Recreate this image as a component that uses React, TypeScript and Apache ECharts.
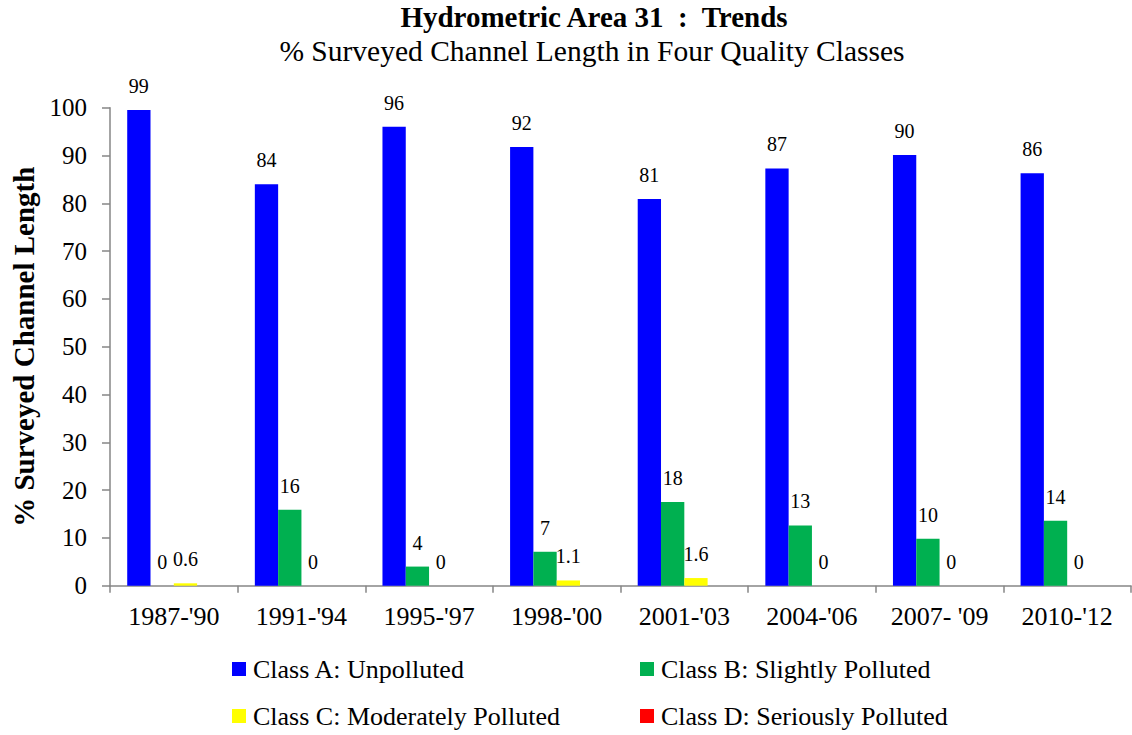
import React, { useEffect, useRef } from "react";
import * as echarts from "echarts";

const categories = ["1987-'90", "1991-'94", "1995-'97", "1998-'00", "2001-'03", "2004-'06", "2007- '09", "2010-'12"];
const classA = [99.5, 84.0, 96.0, 91.8, 80.9, 87.3, 90.1, 86.3];
const classB = [0, 15.9, 4.0, 7.1, 17.5, 12.6, 9.8, 13.6];
const classC = [0.5, 0, 0, 1.1, 1.6, 0, 0, 0];
const classD = [0, 0, 0, 0, 0, 0, 0, 0];
const labelsA = ["99", "84", "96", "92", "81", "87", "90", "86"];
const labelsB = ["0", "16", "4", "7", "18", "13", "10", "14"];
const labelsC = ["0.6", "0", "0", "1.1", "1.6", "0", "0", "0"];
const seriesNames = [
  "Class A: Unpolluted",
  "Class B: Slightly Polluted",
  "Class C: Moderately Polluted",
  "Class D: Seriously Polluted",
];
const colors = ["#0000FF", "#00B050", "#FFFF00", "#FF0000"];

const FONT = "'Liberation Serif', 'Times New Roman', serif";

export default function App() {
  const ref = useRef<HTMLDivElement>(null);
  useEffect(() => {
    if (!ref.current) return;
    const chart = echarts.init(ref.current, null, { renderer: "svg" });
    const labelOpt = (labels: string[] | null) =>
      labels
        ? {
            show: true,
            position: "top",
            distance: 14,
            color: "#000",
            fontFamily: FONT,
            fontSize: 20,
            formatter: (p: any) => labels[p.dataIndex],
          }
        : { show: false };
    const datasets = [classA, classB, classC, classD];
    const labelSets = [labelsA, labelsB, labelsC, null];
    const legendPos = [
      { left: 232, top: 656 },
      { left: 640, top: 656 },
      { left: 232, top: 703 },
      { left: 640, top: 703 },
    ];
    chart.setOption({
      animation: false,
      backgroundColor: "#fff",
      title: [
        {
          text: "Hydrometric Area 31  :  Trends",
          left: 594,
          top: 2,
          padding: 0,
          textAlign: "center",
          textStyle: { fontFamily: FONT, fontSize: 29, fontWeight: "bold", color: "#000" },
        },
        {
          text: "% Surveyed Channel Length in Four Quality Classes",
          left: 592,
          top: 36,
          padding: 0,
          textAlign: "center",
          textStyle: { fontFamily: FONT, fontSize: 29.5, fontWeight: "normal", color: "#000" },
        },
      ],
      legend: seriesNames.map((n, i) => ({
        data: [n],
        left: legendPos[i].left,
        top: legendPos[i].top,
        padding: 0,
        icon: "rect",
        itemWidth: 14,
        itemHeight: 14,
        selectedMode: false,
        textStyle: { fontFamily: FONT, fontSize: 26, color: "#000", padding: [0, 0, 0, 2] },
      })),
      grid: { left: 110, right: 1, top: 107.7, bottom: 149.3, containLabel: false },
      xAxis: {
        type: "category",
        data: categories,
        axisLine: { show: true, lineStyle: { color: "#868686", width: 1.5 } },
        axisTick: { show: true, length: 7, lineStyle: { color: "#868686", width: 1.5 } },
        axisLabel: { fontFamily: FONT, fontSize: 26, color: "#000", margin: 18, interval: 0 },
      },
      yAxis: {
        type: "value",
        min: 0,
        max: 100,
        interval: 10,
        name: "% Surveyed Channel Length",
        nameLocation: "middle",
        nameGap: 72,
        nameTextStyle: { fontFamily: FONT, fontSize: 29, fontWeight: "bold", color: "#000" },
        axisLine: { show: true, lineStyle: { color: "#868686", width: 1.5 } },
        axisTick: { show: true, length: 8, lineStyle: { color: "#868686", width: 1.5 } },
        splitLine: { show: false },
        axisLabel: { fontFamily: FONT, fontSize: 25, color: "#000", margin: 23 },
      },
      series: datasets.map((d, i) => ({
        name: seriesNames[i],
        type: "bar",
        data: d,
        barWidth: 23.3,
        barGap: "0%",
        itemStyle: { color: colors[i] },
        label: labelOpt(labelSets[i]),
      })),
    });
    return () => chart.dispose();
  }, []);
  return (
    <div
      ref={ref}
      style={{ position: "fixed", left: 0, top: 0, width: 1132, height: 735, background: "#fff" }}
    />
  );
}
